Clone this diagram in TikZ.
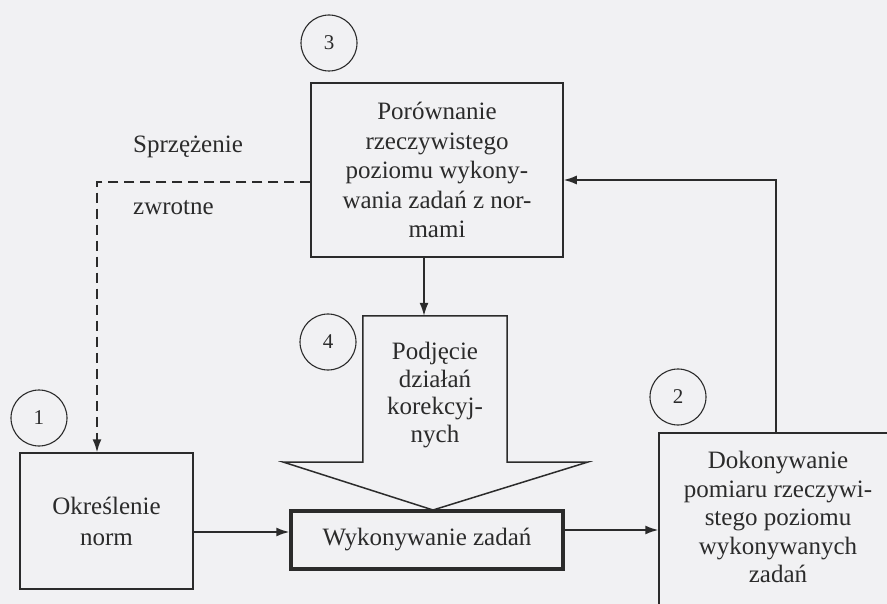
\documentclass[tikz,border=0pt]{standalone}
\usepackage{fontspec}
\setmainfont{Liberation Serif}
\usetikzlibrary{arrows.meta}
\definecolor{ink}{HTML}{2B2B2B}
\definecolor{paper}{HTML}{F1F1F3}
\begin{document}
\begin{tikzpicture}[x=1pt,y=-1pt,
  font=\fontsize{25}{28.5}\selectfont,
  every node/.style={text=ink},
  box/.style={draw=ink, line width=1.5pt, rectangle, inner sep=0pt},
  num/.style={draw=ink, circle, line width=1.1pt, minimum size=56pt, inner sep=0pt, font=\fontsize{21}{21}\selectfont},
  conn/.style={draw=ink, line width=1.5pt},
  arr/.style={conn, -{Latex[length=13pt,width=9pt]}},
  lbl/.style={align=center, inner sep=0pt}]
\fill[paper] (0,0) rectangle (887,604);
\useasboundingbox (0,0) rectangle (887,604);
\clip (0,0) rectangle (887,604);

% boxes
\node[box, minimum width=252pt, minimum height=174pt, align=center,
      font=\fontsize{25}{29.5}\selectfont] (b3) at (437,170)
      {Porównanie\\rzeczywistego\\poziomu wykony-\\wania zadań z nor-\\mami};

\node[minimum width=144pt, minimum height=146pt, inner sep=0pt] (b4) at (435,389) {};
\node[lbl, font=\fontsize{25}{27.5}\selectfont] (b4t) at (435,395) {Podjęcie\\działań\\korekcyj-\\nych};

\node[box, line width=3.5pt, minimum width=272pt, minimum height=58pt] (wk) at (427,540) {Wykonywanie zadań};

\coordinate (tip) at (433,510);
\draw[conn, line join=miter] (b4.south west) -- (b4.north west) -- (b4.north east) -- (b4.south east)
  -- (588,462) -- (tip) -- (283,462) -- cycle;

\node[box, minimum width=173pt, minimum height=136pt, align=center,
      font=\fontsize{25}{31}\selectfont] (b1) at (106.5,521) {Określenie\\norm};

\node[box, minimum width=238pt, minimum height=190pt] (b2) at (778,528) {};
\node[lbl] (b2t) at (778,517) {Dokonywanie\\pomiaru rzeczywi-\\stego poziomu\\wykonywanych\\zadań};

% circles
\node[num] (c3) at (329,43) {3};
\node[num] (c4) at (328,342) {4};
\node[num] (c1) at (39,418) {1};
\node[num] (c2) at (678,397) {2};

% labels
\node[anchor=base west, inner sep=0pt] (s1) at (133,153) {Sprzężenie};
\node[anchor=base west, inner sep=0pt] (s2) at (133,215) {zwrotne};

% connectors
\coordinate (ax) at (424,0);
\draw[arr] (ax |- b3.south) -- (ax |- b4.north);
\coordinate (y1) at (0,532);
\draw[arr] (b1.east |- y1) -- (wk.west |- y1);
\coordinate (y2) at (0,530);
\draw[arr] (wk.east |- y2) -- (b2.west |- y2);
\coordinate (fx) at (776,180);
\draw[arr] (b2.north -| fx) -- (fx) -- (fx -| b3.east);
\coordinate (dd) at (97,182);
\draw[arr, dash pattern=on 10pt off 6pt] (dd -| b3.west) -- (dd) -- (dd |- b1.north);
\end{tikzpicture}
\end{document}
